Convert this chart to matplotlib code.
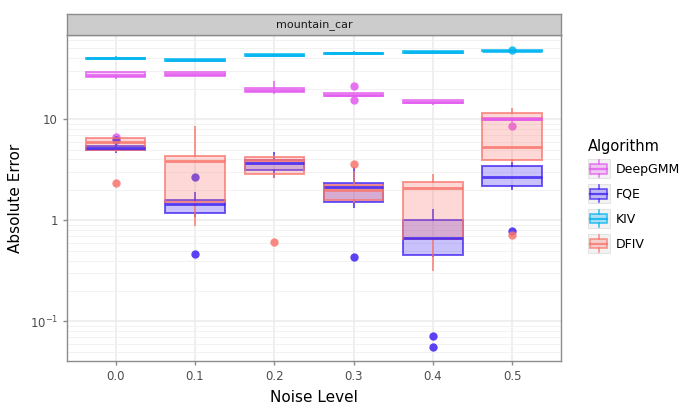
import matplotlib
matplotlib.use("Agg")
import matplotlib.pyplot as plt
from matplotlib.patches import Patch, Rectangle
from matplotlib.lines import Line2D
from matplotlib.legend_handler import HandlerBase
from matplotlib.ticker import LogLocator, NullFormatter
from matplotlib.colors import to_rgba

plt.rcParams['font.family'] = ['DejaVu Sans']
plt.rcParams['mathtext.default'] = 'regular'

# noise levels on the x axis
noise = [0.0, 0.1, 0.2, 0.3, 0.4, 0.5]
algos = ['DeepGMM', 'FQE', 'KIV', 'DFIV']
colors = {'DeepGMM': '#E35BEF', 'FQE': '#3F22F2', 'KIV': '#00B4F0', 'DFIV': '#F8766D'}

# box stats (q1, median, q3, whisker low, whisker high, outliers)
deepgmm_q1 = [25.9, 26.8, 18.4, 16.9, 14.4, 9.7]
deepgmm_med = [27.3, 27.9, 19.4, 17.4, 14.8, 9.94]
deepgmm_q3 = [29.0, 28.9, 20.4, 17.9, 15.3, 10.2]
deepgmm_lo = [25.5, 26.5, 18.0, 16.8, 14.2, 9.6]
deepgmm_hi = [29.5, 29.2, 23.1, 18.0, 15.5, 10.3]
deepgmm_out = [[6.7], [], [], [21.4, 15.4], [], [8.46]]

fqe_q1 = [4.93, 1.19, 3.13, 1.50, 0.457, 2.19]
fqe_med = [5.15, 1.44, 3.64, 2.14, 0.67, 2.69]
fqe_q3 = [5.40, 1.58, 3.93, 2.36, 1.015, 3.43]
fqe_lo = [4.70, 1.10, 2.69, 1.36, 0.44, 2.06]
fqe_hi = [5.80, 1.84, 4.65, 3.30, 1.26, 3.65]
fqe_out = [[6.2], [2.69, 0.468], [], [0.433], [0.0727, 0.0565], [0.78]]

kiv_q1 = [39.3, 37.8, 42.4, 44.0, 45.4, 46.8]
kiv_med = [39.9, 38.4, 43.0, 44.7, 46.1, 47.5]
kiv_q3 = [40.5, 39.0, 43.6, 45.4, 46.8, 48.2]
kiv_lo = [39.2, 37.7, 42.3, 43.9, 45.3, 46.7]
kiv_hi = [40.6, 39.1, 43.7, 45.5, 46.9, 48.3]
kiv_out = [[], [], [], [], [], [48.3]]

dfiv_q1 = [4.93, 1.52, 2.85, 1.58, 0.66, 3.93]
dfiv_med = [5.90, 3.84, 3.95, 2.01, 2.09, 5.25]
dfiv_q3 = [6.44, 4.30, 4.18, 2.22, 2.37, 11.6]
dfiv_lo = [4.80, 0.89, 2.70, 1.50, 0.32, 3.80]
dfiv_hi = [6.50, 8.40, 4.30, 3.00, 2.83, 12.6]
dfiv_out = [[2.31], [], [0.61], [3.56], [], [0.71]]

series = {
    'DeepGMM': (deepgmm_q1, deepgmm_med, deepgmm_q3, deepgmm_lo, deepgmm_hi, deepgmm_out),
    'FQE': (fqe_q1, fqe_med, fqe_q3, fqe_lo, fqe_hi, fqe_out),
    'KIV': (kiv_q1, kiv_med, kiv_q3, kiv_lo, kiv_hi, kiv_out),
    'DFIV': (dfiv_q1, dfiv_med, dfiv_q3, dfiv_lo, dfiv_hi, dfiv_out),
}

fig = plt.figure(figsize=(6.84, 4.11), dpi=100)
ax = fig.add_axes([67/684, 1 - 361/411, (561-67)/684, (361-35)/411])

ax.set_yscale('log')
ax.set_xlim(-0.0614, 0.5615)
ax.set_ylim(0.0407, 67.7)

# grid
ax.set_axisbelow(True)
ax.grid(True, which='major', color='#EBEBEB', lw=1.1)
ax.yaxis.set_minor_locator(LogLocator(base=10, subs=[2, 3, 4, 5, 6, 7, 8, 9]))
ax.yaxis.set_minor_formatter(NullFormatter())
ax.grid(True, which='minor', axis='y', color='#F2F2F2', lw=0.7)
ax.tick_params(which='minor', length=0)

for name in algos:
    q1, med, q3, lo, hi, out = series[name]
    c = colors[name]
    stats = []
    for i in range(len(noise)):
        stats.append({'q1': q1[i], 'med': med[i], 'q3': q3[i],
                      'whislo': lo[i], 'whishi': hi[i], 'fliers': out[i]})
    ax.bxp(stats, positions=noise, widths=0.075, patch_artist=True,
           showcaps=False, manage_ticks=False,
           boxprops=dict(facecolor=to_rgba(c, 0.28), edgecolor=to_rgba(c, 0.75), lw=1.4),
           medianprops=dict(color=to_rgba(c, 0.85), lw=2.0),
           whiskerprops=dict(color=to_rgba(c, 0.75), lw=1.4),
           flierprops=dict(marker='o', markerfacecolor=c, markeredgecolor='none',
                           markersize=6, alpha=0.85))

ax.set_xticks(noise)
ax.set_xticklabels(['0.0', '0.1', '0.2', '0.3', '0.4', '0.5'])
ax.set_yticks([0.1, 1, 10])
ax.set_yticklabels(['$10^{-1}$', '1', '10'])
ax.tick_params(which='major', length=3, width=1, color='#8C8C8C',
               labelcolor='#4D4D4D', labelsize=8.5)
for s in ax.spines.values():
    s.set_color('#8C8C8C')
    s.set_linewidth(1.0)

ax.set_xlabel('Noise Level', fontsize=11, labelpad=5)
ax.set_ylabel('Absolute Error', fontsize=11, labelpad=5)

# facet strip
strip = fig.add_axes([67/684, 1 - 35/411, (561-67)/684, 21/411])
strip.set_facecolor('#CCCCCC')
strip.set_xticks([])
strip.set_yticks([])
for s in strip.spines.values():
    s.set_color('#8C8C8C')
    s.set_linewidth(1.0)
strip.text(0.5, 0.5, 'mountain_car', ha='center', va='center', fontsize=8, color='#1A1A1A')


class BoxKey(HandlerBase):
    def create_artists(self, legend, orig, xd, yd, w, h, fontsize, trans):
        c = orig.get_facecolor()[:3]
        x0, y0 = -xd, -yd
        bg = Rectangle((x0, y0), w, h, facecolor='#F2F2F2', edgecolor='#E0E0E0', lw=0.6, transform=trans)
        box = Rectangle((x0 + 0.12*w, y0 + 0.25*h), 0.76*w, 0.5*h,
                        facecolor=to_rgba(c, 0.28), edgecolor=to_rgba(c, 0.75), lw=1.2, transform=trans)
        mid = Line2D([x0 + 0.12*w, x0 + 0.88*w], [y0 + 0.5*h, y0 + 0.5*h], color=to_rgba(c, 0.8), lw=1.6, transform=trans)
        w1 = Line2D([x0 + 0.5*w, x0 + 0.5*w], [y0 + 0.05*h, y0 + 0.25*h], color=to_rgba(c, 0.75), lw=1.2, transform=trans)
        w2 = Line2D([x0 + 0.5*w, x0 + 0.5*w], [y0 + 0.75*h, y0 + 0.95*h], color=to_rgba(c, 0.75), lw=1.2, transform=trans)
        return [bg, box, mid, w1, w2]


handles = [Patch(facecolor=colors[a], label=a) for a in algos]
fig.legend(handles=handles, labels=algos, handler_map={Patch: BoxKey()},
           loc='upper left', bbox_to_anchor=(585/684, 1 - 136/411),
           title='Algorithm', title_fontsize=10.5, fontsize=9, frameon=False,
           handlelength=1.8, handleheight=2.0, labelspacing=0.45,
           handletextpad=0.45, borderaxespad=0, borderpad=0.2, alignment='left')

fig.savefig('out.png', dpi=100)
